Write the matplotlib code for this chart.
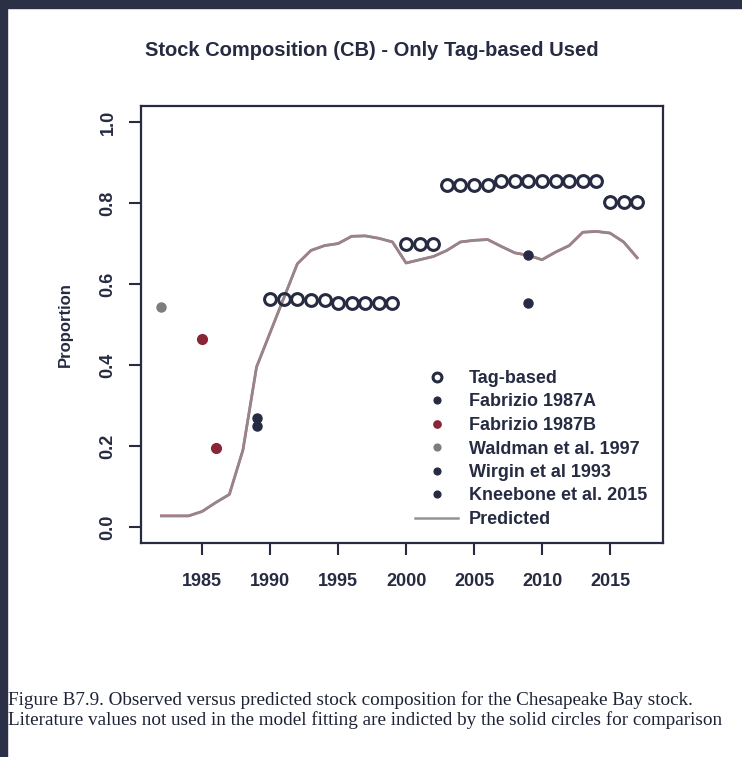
import matplotlib
matplotlib.use("Agg")
import matplotlib.pyplot as plt
import numpy as np

# --- data ---
tag_years = np.arange(1990, 2000).tolist() + [2000, 2001, 2002] + np.arange(2003, 2018).tolist()
tag_vals = [0.562, 0.562, 0.562, 0.560, 0.560, 0.552, 0.552, 0.552, 0.552, 0.552,
            0.698, 0.698, 0.698,
            0.845, 0.845, 0.845, 0.845,
            0.855, 0.855, 0.855, 0.855, 0.855, 0.855, 0.855, 0.855,
            0.803, 0.803, 0.803]

fab_a_years = [1989]
fab_a_vals = [0.27]
fab_b_years = [1985, 1986]
fab_b_vals = [0.463, 0.196]
waldman_years = [1982]
waldman_vals = [0.543]
wirgin_years = [1989]
wirgin_vals = [0.25]
kneebone_years = [2009, 2009]
kneebone_vals = [0.671, 0.552]

pred_years = np.arange(1982, 2018)
pred_vals = [0.027, 0.027, 0.027, 0.038, 0.060, 0.080, 0.190, 0.395, 0.480, 0.565,
             0.650, 0.683, 0.695, 0.700, 0.718, 0.719, 0.713, 0.704, 0.652, 0.660,
             0.668, 0.683, 0.704, 0.708, 0.710, 0.693, 0.677, 0.671, 0.660, 0.679,
             0.695, 0.728, 0.730, 0.726, 0.704, 0.665]

x_ticks = [1985, 1990, 1995, 2000, 2005, 2010, 2015]
y_ticks = [0.0, 0.2, 0.4, 0.6, 0.8, 1.0]

navy = "#262b42"
maroon = "#8a2535"
grey_pt = "#7d7d7d"

plt.rcParams['font.family'] = ['Liberation Sans', 'DejaVu Sans']

fig = plt.figure(figsize=(7.42, 7.57), dpi=100)
fig.patch.set_facecolor("white")

# dark frame along top and left edges (screenshot border)
fig.patches.append(plt.Rectangle((0, 1 - 8 / 757), 1, 8 / 757, transform=fig.transFigure,
                                 color="#2b3047", zorder=0))
fig.patches.append(plt.Rectangle((0, 0), 7 / 742, 1, transform=fig.transFigure,
                                 color="#2b3047", zorder=0))

ax = fig.add_axes([141 / 742, 1 - 543 / 757, (663 - 141) / 742, (543 - 106) / 757])

# predicted line: pink under grey, as in the scan
ax.plot(pred_years, pred_vals, color="#c8607a", lw=2.0, zorder=2)
h_pr, = ax.plot(pred_years, pred_vals, color="#8c8c8c", lw=1.8, alpha=0.92, zorder=3, label="Predicted")

h_tag, = ax.plot(tag_years, tag_vals, 'o', mfc='none', mec=navy, mew=2.2, ms=8.5, zorder=4, label="Tag-based")
h_fa, = ax.plot(fab_a_years, fab_a_vals, 'o', color=navy, ms=6.5, zorder=5, label="Fabrizio 1987A")
h_fb, = ax.plot(fab_b_years, fab_b_vals, 'o', color=maroon, ms=7, zorder=5, label="Fabrizio 1987B")
h_wa, = ax.plot(waldman_years, waldman_vals, 'o', color=grey_pt, ms=6.5, zorder=5, label="Waldman et al. 1997")
h_wi, = ax.plot(wirgin_years, wirgin_vals, 'o', color=navy, ms=6.5, zorder=5, label="Wirgin et al 1993")
h_kn, = ax.plot(kneebone_years, kneebone_vals, 'o', color=navy, ms=6.5, zorder=5, label="Kneebone et al. 2015")

ax.set_xlim(1980.5, 2018.9)
ax.set_ylim(-0.04, 1.04)
ax.set_xticks(x_ticks)
ax.set_yticks(y_ticks)
ax.set_yticklabels(["%.1f" % v for v in y_ticks], rotation=90, va='center')

for s in ax.spines.values():
    s.set_color(navy)
    s.set_linewidth(1.6)
ax.tick_params(direction='out', length=8.5, width=1.5, color=navy, labelcolor=navy,
               labelsize=13, pad=9)
ax.tick_params(axis='x', pad=13)
for lab in ax.get_xticklabels() + ax.get_yticklabels():
    lab.set_fontweight('bold')

ax.set_ylabel("Proportion", fontsize=12, fontweight='bold', color=navy, labelpad=19)
fig.text(372 / 742, 1 - 50 / 757, "Stock Composition (CB) - Only Tag-based Used",
         ha='center', va='center', fontsize=14.5, fontweight='bold', color=navy)

handles = [h_tag, h_fa, h_fb, h_wa, h_wi, h_kn, h_pr]
leg = ax.legend(handles, [h.get_label() for h in handles],
                loc='upper left', bbox_to_anchor=(415 / 742, 1 - 370 / 757),
                bbox_transform=fig.transFigure, frameon=False, borderpad=0, borderaxespad=0,
                handlelength=2.4, handletextpad=0.6, labelspacing=0.36, markerscale=0.75,
                prop={'size': 13, 'weight': 'bold'})
for t in leg.get_texts():
    t.set_color(navy)

cap_font = ['Liberation Serif', 'DejaVu Serif']
fig.text(8 / 742, 1 - 700 / 757,
         "Figure B7.9. Observed versus predicted stock composition for the Chesapeake Bay stock.",
         ha='left', va='center', fontsize=13.8, family=cap_font, color="#1e2235")
fig.text(8 / 742, 1 - 720 / 757,
         "Literature values not used in the model fitting are indicted by the solid circles for comparison",
         ha='left', va='center', fontsize=13.8, family=cap_font, color="#1e2235")

fig.savefig("out.png", dpi=100)
